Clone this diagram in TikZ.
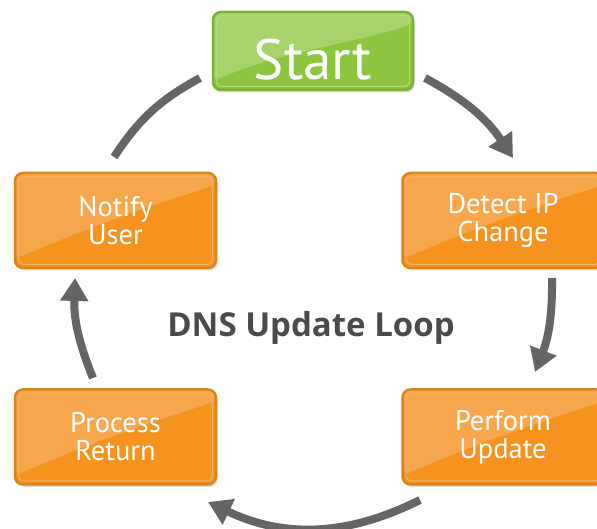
\documentclass[tikz,border=0pt]{standalone}
\usepackage{fontspec}
\setmainfont{PT Sans}
\newfontfamily\titlefont{Open Sans}
\usetikzlibrary{arrows.meta,shadows}
\definecolor{orangemain}{HTML}{F6921E}
\definecolor{orangelight}{HTML}{F8A74C}
\definecolor{orangedark}{HTML}{DC841C}
\definecolor{orangeinner}{HTML}{F9B060}
\definecolor{greenmain}{HTML}{8CC63F}
\definecolor{greenlight}{HTML}{A6D36A}
\definecolor{greendark}{HTML}{79B236}
\definecolor{greeninner}{HTML}{B4DA80}
\definecolor{arrowgray}{HTML}{656565}
\definecolor{titlegray}{HTML}{4A4A4A}
\tikzset{
  glossbox/.style n args={4}{
    rounded corners=8pt, draw=#3, line width=2.5pt, fill=#1,
    text=white, align=center, inner sep=0pt,
    drop shadow={opacity=0.25, shadow xshift=1.5pt, shadow yshift=-2.5pt},
    path picture={
      \fill[#2] ([yshift=9pt]path picture bounding box.south west)
        .. controls +(70pt,30pt) and +(-70pt,-22pt) ..
        ([yshift=-12pt]path picture bounding box.north east)
        |- (path picture bounding box.north west) -- cycle;
      \draw[#4, line width=1pt, rounded corners=5pt]
        ([shift={(3.5pt,3.5pt)}]path picture bounding box.south west) rectangle
        ([shift={(-3.5pt,-3.5pt)}]path picture bounding box.north east);
    }
  },
  orangebox/.style={glossbox={orangemain}{orangelight}{orangedark}{orangeinner},
    minimum width=201pt, minimum height=95pt,
    font=\fontsize{28.5}{28}\selectfont},
  greenbox/.style={glossbox={greenmain}{greenlight}{greendark}{greeninner},
    minimum width=200pt, minimum height=78pt,
    font=\fontsize{57}{57}\selectfont, text height=58pt, text depth=0pt},
  looparrow/.style={draw=arrowgray, line width=8pt},
  looptip/.style={looparrow, -{Triangle[width=27pt,length=23pt]}}
}
\begin{document}
\begin{tikzpicture}[x=1pt,y=1pt]
  \useasboundingbox (0,0) rectangle (597,529);
  % boxes (coordinates: x, 529 - y)
  \node[greenbox]  (start)   at (313,478)   {Start};
  \node[orangebox] (notify)  at (115.5,308.5) {Notify\\User};
  \node[orangebox] (detect)  at (503,308.5) {Detect IP\\Change};
  \node[orangebox] (process) at (115.5,92)  {Process\\Return};
  \node[orangebox] (perform) at (503,92)    {Perform\\Update};
  \node[font=\titlefont\bfseries\fontsize{33}{33}\selectfont, text=titlegray, anchor=base] (title) at (311,192) {DNS Update Loop};
  % arrow end points
  \coordinate (a1s) at (114,372);  \coordinate (a1e) at (200,451);
  \coordinate (a2s) at (425,451);  \coordinate (a2e) at (513,371);
  \coordinate (a3s) at (552,251);  \coordinate (a3e) at (535,157);
  \coordinate (a4s) at (420,29);   \coordinate (a4e) at (208,27);
  \coordinate (a5s) at (93,151);   \coordinate (a5e) at (75,251);
  \draw[looparrow] (a1s) to[bend left=14] (a1e);
  \draw[looptip] (a2s) to[bend left=14] (a2e);
  \draw[looptip] (a3s) to[bend left=11] (a3e);
  \draw[looptip] (a4s) to[bend left=26] (a4e);
  \draw[looptip] (a5s) to[bend left=12] (a5e);
\end{tikzpicture}
\end{document}
